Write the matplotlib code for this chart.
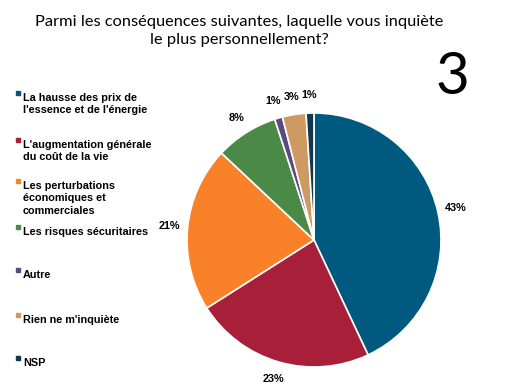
import matplotlib.pyplot as plt
from matplotlib.patches import Rectangle

categories = ["La hausse des prix de\nl'essence et de l'énergie",
              "L'augmentation générale\ndu coût de la vie",
              "Les perturbations\néconomiques et\ncommerciales",
              "Les risques sécuritaires",
              "Autre",
              "Rien ne m'inquiète",
              "NSP"]
values = [43, 23, 21, 8, 1, 3, 1]
colors = ["#005a7f", "#a81f39", "#f98129", "#4a8a46", "#5c4a7e", "#cf9a62", "#0f3a4e"]

W, H = 516, 391
fig = plt.figure(figsize=(W / 100, H / 100), dpi=100)

fig.text(239 / W, 1 - 31 / H, "Parmi les conséquences suivantes, laquelle vous inquiète\nle plus personnellement?",
         ha="center", va="center", fontsize=11.8, family="Lato",
         linespacing=1.4)
fig.text(452 / W, 1 - 77 / H, "3", ha="center", va="center", fontsize=42,
         family="Lato")

# pie
cx, cy, r = 314, 240, 127
ax = fig.add_axes([(cx - r) / W, 1 - (cy + r) / H, 2 * r / W, 2 * r / H])
wedges, texts = ax.pie(values, colors=colors, startangle=90, counterclock=False,
                       labels=[f"{v}%" for v in values], labeldistance=1.14,
                       wedgeprops=dict(edgecolor="white", linewidth=1.2))
for t in texts:
    t.set_ha("center")
    t.set_va("center")
    t.set_fontsize(7.8)
    t.set_fontweight("bold")
    t.set_family("Liberation Sans")
ax.set_aspect("equal")
ax.set_xlim(-1, 1)
ax.set_ylim(-1, 1)

# legend on the left
legend_y = [93, 140, 181, 227, 270, 315, 358]
for name, col, y in zip(categories, colors, legend_y):
    fig.add_artist(Rectangle((16 / W, 1 - (y + 2) / H), 4 / W, 4 / H,
                             color=col, transform=fig.transFigure))
    fig.text(23 / W, 1 - y / H, name, ha="left", va="top", fontsize=7.8,
             fontweight="bold", family="Liberation Sans", linespacing=1.3)

fig.savefig("out.png", dpi=100)
